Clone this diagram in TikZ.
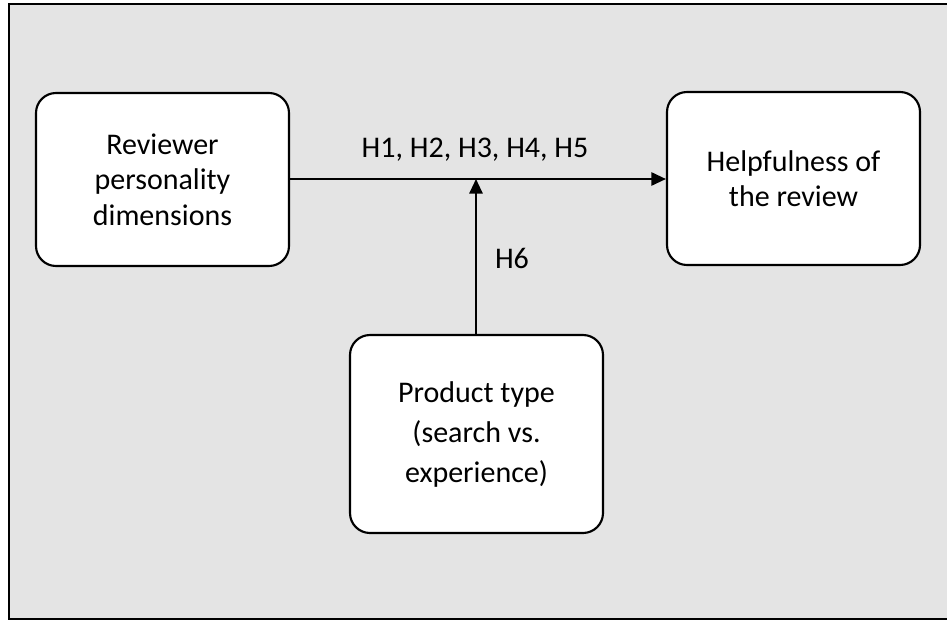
\documentclass[tikz,border=0pt]{standalone}
\usepackage{fontspec}
\setmainfont{Carlito}
\usetikzlibrary{arrows.meta}
\definecolor{bggray}{RGB}{228,228,228}
\tikzset{
  box/.style={draw=black, line width=1.6pt, fill=white, rounded corners=15pt, align=center,
    font=\fontsize{22.5}{26.5}\selectfont, inner sep=0pt},
  conn/.style={draw=black, line width=1.5pt, -{Triangle[length=11pt,width=10pt]}},
  lbl/.style={font=\fontsize{22.5}{26.5}\selectfont, inner sep=0pt}
}
\begin{document}
\begin{tikzpicture}[x=0.75pt,y=-0.75pt]
\useasboundingbox (0,0) rectangle (947,621);
\draw[line width=2.2pt, fill=bggray] (9,4) rectangle (960,619);
\node[box, minimum width=253*0.75pt, minimum height=173*0.75pt] (rev) at (162.5,179.5) {Reviewer\\personality\\dimensions};
\node[box, minimum width=253*0.75pt, minimum height=173*0.75pt] (help) at (793.5,178.5) {Helpfulness of\\the review};
\node[box, minimum width=253*0.75pt, minimum height=198*0.75pt, font=\fontsize{22.5}{30}\selectfont] (prod) at (476.5,434) {Product type\\(search vs.\\experience)};
\coordinate (mid) at (476,179);
\draw[conn] (rev.east |- mid) -- (help.west |- mid);
\draw[conn] (prod.north -| mid) -- (mid);
\node[lbl] (h15) at (475,150) {H1, H2, H3, H4, H5};
\node[lbl] (h6) at (512,258) {H6};
\end{tikzpicture}
\end{document}
